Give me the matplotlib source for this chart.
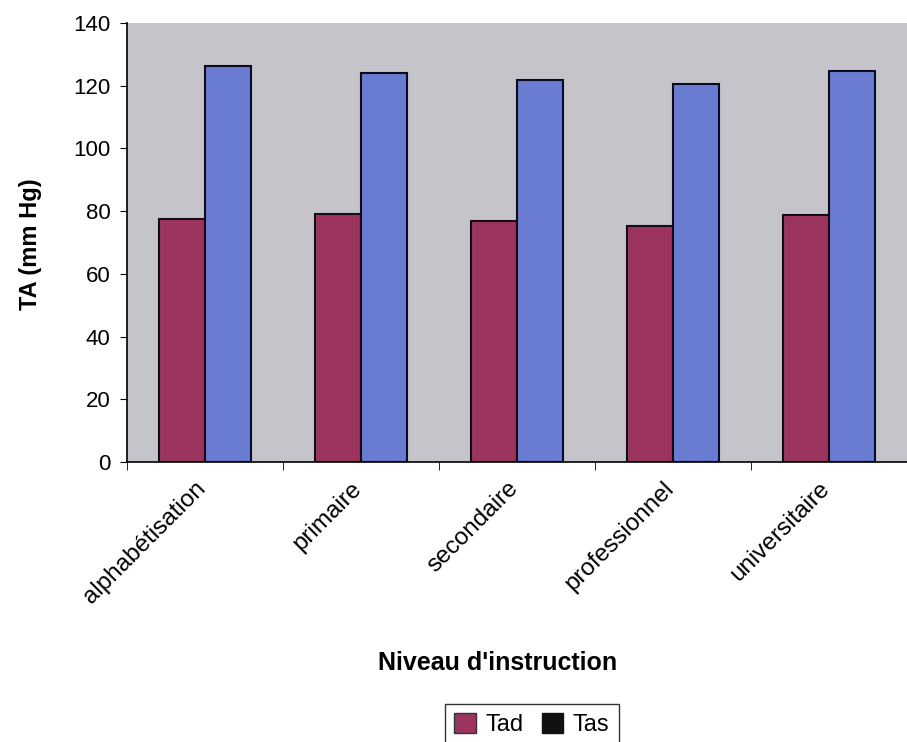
import numpy as np
import matplotlib.pyplot as plt
import matplotlib.transforms as mtransforms
from matplotlib.patches import Patch

plt.rcParams['font.family'] = ['Liberation Sans', 'DejaVu Sans']

niveaux = ['alphabétisation', 'primaire', 'secondaire', 'professionnel', 'universitaire']
tad = [77.6, 79.2, 76.9, 75.3, 78.9]
tas = [126.4, 124.1, 121.9, 120.6, 124.8]

fig = plt.figure(figsize=(9.07, 7.42), dpi=100)
ax = fig.add_axes([127 / 907, 1 - 462 / 742, 1 - 127 / 907, (462 - 23) / 742])
ax.set_facecolor('#c4c4ca')

x = np.arange(len(niveaux))
w = 0.293
ax.bar(x - w / 2, tad, w, color='#9b3560', edgecolor='#1a0a14', linewidth=1.5)
ax.bar(x + w / 2, tas, w, color='#6a7bd2', edgecolor='#0a0a20', linewidth=1.5)

ax.set_xlim(-0.5, -0.5 + (907 - 127) / 157)
ax.set_ylim(0, 140)
ax.set_yticks(range(0, 141, 20))
ax.tick_params(axis='y', labelsize=16, length=5, pad=7)

ax.set_xticks(x)
ax.set_xticklabels(niveaux, rotation=45, ha='right', rotation_mode='anchor', fontsize=17.5)
ax.tick_params(axis='x', which='major', length=0, pad=11)
ax.set_xticks(np.arange(-0.5, len(niveaux), 1), minor=True)
ax.tick_params(axis='x', which='minor', length=6, direction='out')

# nudge the slanted labels a bit to the left
shift = mtransforms.ScaledTranslation(-10 / 100, 0, fig.dpi_scale_trans)
for lab in ax.get_xticklabels():
    lab.set_transform(lab.get_transform() + shift)

for side in ['top', 'right']:
    ax.spines[side].set_visible(False)
ax.spines['left'].set_linewidth(1.2)
ax.spines['bottom'].set_linewidth(1.2)

fig.text(30 / 907, 1 - 244 / 742, 'TA (mm Hg)', rotation=90, ha='center', va='center',
         fontsize=17, fontweight='bold')
fig.text(498 / 907, 1 - 663 / 742, "Niveau d'instruction", ha='center', va='center',
         fontsize=18, fontweight='bold')

handles = [Patch(facecolor='#9b3560', edgecolor='#333333'),
           Patch(facecolor='#111111', edgecolor='#111111')]
fig.legend(handles, ['Tad', 'Tas'], loc='upper center', bbox_to_anchor=(532 / 907, 1 - 692 / 742),
           ncol=2, fontsize=17, frameon=True, fancybox=False, edgecolor='black',
           handlelength=0.9, handleheight=0.9, handletextpad=0.4, columnspacing=0.8,
           borderpad=0.4)

fig.savefig('out.png', dpi=100)
